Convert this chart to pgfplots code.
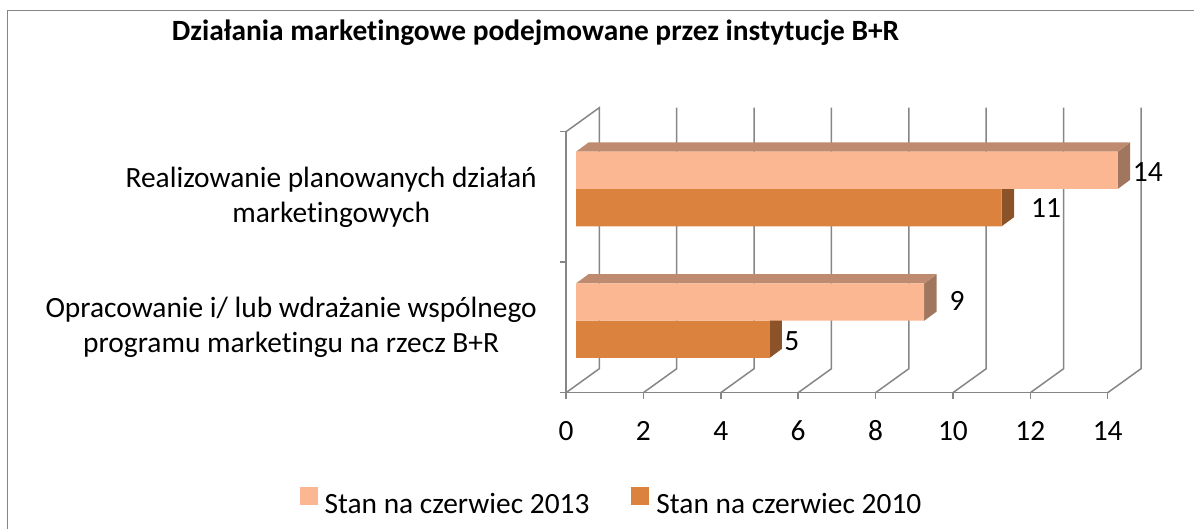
\documentclass[border=0pt]{standalone}
\usepackage{pgfplots}
\pgfplotsset{compat=1.18}
\usepackage{fontspec}
\setmainfont[Ligatures={NoCommon}]{Carlito}
\definecolor{lightbar}{RGB}{250,183,145}
\definecolor{lighttop}{RGB}{190,138,112}
\definecolor{lightside}{RGB}{160,118,94}
\definecolor{darkbar}{RGB}{219,130,62}
\definecolor{darkside}{RGB}{140,82,40}
\definecolor{gridc}{RGB}{134,134,134}
\begin{document}
\begin{tikzpicture}[x=1pt,y=1pt]
\useasboundingbox (0pt,0pt) rectangle (1194pt,529pt);
\draw[gridc, line width=1.5pt] (7.3pt,0pt) -- (7.3pt,518.3pt) -- (1194pt,518.3pt);
\node[anchor=base west, font=\fontsize{29.4}{35}\selectfont\bfseries, inner sep=0pt] at (171.7pt,488.3pt) {Działania marketingowe podejmowane przez instytucje B+R};

\begin{axis}[
  at={(566pt,136.3pt)}, anchor=south west,
  scale only axis, width=541.7pt, height=261pt,
  xmin=0, xmax=14, ymin=0, ymax=261,
  axis x line=bottom, axis y line=left,
  axis line style={gridc, line width=1.5pt, -},
  tick align=outside, major tick length=6pt,
  tick style={gridc, line width=1.5pt},
  xtick={0,2,...,14}, ytick={0,130.5,261}, yticklabels={},
  clip=false,
  ticklabel style={font=\fontsize{29.4}{35}\selectfont},
  xticklabel style={text height=19pt, text depth=0pt, anchor=north, yshift=-19pt},
  /pgf/number format/assume math mode=true,
  extra y ticks={65.25,195.75},
  extra y tick labels={{Opracowanie i/ lub wdrażanie wspólnego\\programu marketingu na rzecz B+R},{Realizowanie planowanych działań\\marketingowych}},
  extra y tick style={major tick length=0pt, yticklabel style={align=center, anchor=east, xshift=-29pt, inner sep=0pt}},
]
\addplot[gridc, line width=1.5pt, forget plot] coordinates {(0,0) (0.861,24) (0.861,285) (0,261)};
\addplot[gridc, line width=1.5pt, forget plot] coordinates {(2,0) (2.861,24) (2.861,285)};
\addplot[gridc, line width=1.5pt, forget plot] coordinates {(4,0) (4.861,24) (4.861,285)};
\addplot[gridc, line width=1.5pt, forget plot] coordinates {(6,0) (6.861,24) (6.861,285)};
\addplot[gridc, line width=1.5pt, forget plot] coordinates {(8,0) (8.861,24) (8.861,285)};
\addplot[gridc, line width=1.5pt, forget plot] coordinates {(10,0) (10.861,24) (10.861,285)};
\addplot[gridc, line width=1.5pt, forget plot] coordinates {(12,0) (12.861,24) (12.861,285)};
\addplot[gridc, line width=1.5pt, forget plot] coordinates {(14,0) (14.861,24) (14.861,285)};
\end{axis}

\begin{axis}[
  at={(576pt,143.6pt)}, anchor=south west,
  scale only axis, width=541.7pt, height=261pt,
  xmin=0, xmax=14, ymin=0, ymax=261,
  hide axis, clip=false,
  reverse legend, legend columns=2,
  legend style={at={(0.0655,-0.4467)}, anchor=center, draw=none, fill=none,
    font=\fontsize{29.4}{35}\selectfont,
    /tikz/every odd column/.append style={column sep=5pt},
    /tikz/every even column/.append style={column sep=40pt}},
  legend image code/.code={\fill[#1, draw=none] (0pt,-1pt) rectangle (18pt,17pt);},
]
% dark side faces
\addplot[fill=darkside, draw=none, forget plot] coordinates {(11,159.1) (11,196.4) (11.323,205.6) (11.323,168.3) (11,159.1)};
\addplot[fill=darkside, draw=none, forget plot] coordinates {(5,27.4) (5,64.7) (5.323,73.9) (5.323,36.6) (5,27.4)};
% dark front faces
\addplot[xbar, bar width=37.3, bar shift=0pt, fill=darkbar, draw=none] coordinates {(11,177.75) (5,46.05)};
\addlegendentry{Stan na czerwiec 2010}
% light side and top faces
\addplot[fill=lightside, draw=none, forget plot] coordinates {(14,196.4) (14,233.7) (14.323,242.9) (14.323,205.6) (14,196.4)};
\addplot[fill=lighttop, draw=none, forget plot] coordinates {(0,233.7) (14,233.7) (14.323,242.9) (0.323,242.9) (0,233.7)};
\addplot[fill=lightside, draw=none, forget plot] coordinates {(9,64.7) (9,102) (9.323,111.2) (9.323,73.9) (9,64.7)};
\addplot[fill=lighttop, draw=none, forget plot] coordinates {(0,102) (9,102) (9.323,111.2) (0.323,111.2) (0,102)};
% light front faces
\addplot[xbar, bar width=37.3, bar shift=0pt, fill=lightbar, draw=none] coordinates {(14,215.05) (9,83.35)};
\addlegendentry{Stan na czerwiec 2013}
% data labels
\addplot[only marks, mark=none, forget plot, nodes near coords, point meta=explicit symbolic,
  nodes near coords style={anchor=center, font=\fontsize{29.4}{35}\selectfont}]
  coordinates {(14.78,213.4)[14] (12.15,177.4)[11] (9.85,84.4)[9] (5.58,44.4)[5]};
\end{axis}
\end{tikzpicture}
\end{document}
